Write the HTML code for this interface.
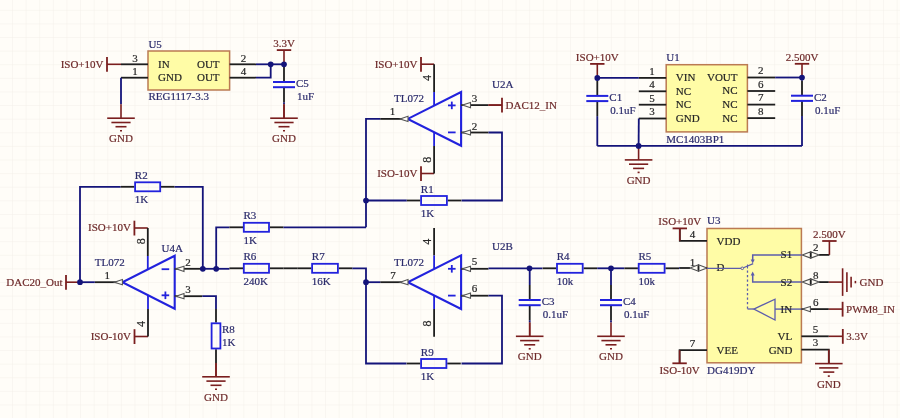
<!DOCTYPE html>
<html><head><meta charset="utf-8"><style>
html,body{margin:0;padding:0;background:#fffdf8;}
svg{display:block;will-change:transform;filter:blur(0.4px);}
text{font-family:"Liberation Serif", serif;stroke:currentColor;stroke-width:0.2px;}
</style></head><body>
<svg width="900" height="418" viewBox="0 0 900 418">
<defs><pattern id="g" x="12" y="9.8" width="13.61" height="13.61" patternUnits="userSpaceOnUse">
<path d="M0 0 H13.61 M0 0 V13.61" stroke="#f4f0e9" stroke-width="1" fill="none"/></pattern></defs>
<rect width="900" height="418" fill="#fffdf8"/>
<rect width="900" height="418" fill="url(#g)"/>
<rect x="148" y="51" width="81.6" height="39" stroke="#bb7a52" stroke-width="1.5" fill="#fffca6"/>
<line x1="121" y1="64.3" x2="148" y2="64.3" stroke="#1e1e1e" stroke-width="1.8" />
<line x1="121" y1="77.7" x2="148" y2="77.7" stroke="#1e1e1e" stroke-width="1.8" />
<line x1="229.6" y1="64.3" x2="256" y2="64.3" stroke="#1e1e1e" stroke-width="1.8" />
<line x1="229.6" y1="77.7" x2="256" y2="77.7" stroke="#1e1e1e" stroke-width="1.8" />
<line x1="107" y1="64.3" x2="121" y2="64.3" stroke="#7a1e1e" stroke-width="1.6" />
<line x1="107" y1="57.0" x2="107" y2="71.8" stroke="#7a1e1e" stroke-width="1.8" />
<text x="103.5" y="67.71" fill="#6e2a2a" color="#6e2a2a" font-size="11" text-anchor="end">ISO+10V</text>
<text x="135" y="61.91" fill="#262626" color="#262626" font-size="11" text-anchor="middle">3</text>
<text x="135" y="75.21" fill="#262626" color="#262626" font-size="11" text-anchor="middle">1</text>
<text x="243.5" y="61.91" fill="#262626" color="#262626" font-size="11" text-anchor="middle">2</text>
<text x="243.5" y="75.21" fill="#262626" color="#262626" font-size="11" text-anchor="middle">4</text>
<text x="158" y="67.71" fill="#262626" color="#262626" font-size="11" text-anchor="start">IN</text>
<text x="158" y="81.11" fill="#262626" color="#262626" font-size="11" text-anchor="start">GND</text>
<text x="219.6" y="67.71" fill="#262626" color="#262626" font-size="11" text-anchor="end">OUT</text>
<text x="219.6" y="81.11" fill="#262626" color="#262626" font-size="11" text-anchor="end">OUT</text>
<text x="148.4" y="47.91" fill="#2c2c6c" color="#2c2c6c" font-size="11" text-anchor="start">U5</text>
<text x="148.4" y="100.41" fill="#2c2c6c" color="#2c2c6c" font-size="11" text-anchor="start">REG1117-3.3</text>
<polyline points="121,77.7 121,104.2" stroke="#14147a" stroke-width="1.8" fill="none" stroke-linejoin="miter" />
<line x1="121" y1="104.2" x2="121" y2="118.2" stroke="#7a1e1e" stroke-width="1.6" />
<line x1="107.2" y1="118.2" x2="134.8" y2="118.2" stroke="#7a1e1e" stroke-width="1.6" />
<line x1="111.4" y1="122.5" x2="130.6" y2="122.5" stroke="#7a1e1e" stroke-width="1.6" />
<line x1="115.5" y1="126.7" x2="126.5" y2="126.7" stroke="#7a1e1e" stroke-width="1.6" />
<line x1="120" y1="130.7" x2="122" y2="130.7" stroke="#7a1e1e" stroke-width="1.6" />
<text x="121" y="142.21" fill="#6e2a2a" color="#6e2a2a" font-size="11" text-anchor="middle">GND</text>
<line x1="256" y1="64.3" x2="284" y2="64.3" stroke="#14147a" stroke-width="1.8" />
<polyline points="256,77.7 270.7,77.7 270.7,64.3" stroke="#14147a" stroke-width="1.8" fill="none" stroke-linejoin="miter" />
<line x1="284" y1="50.1" x2="284" y2="64.3" stroke="#7a1e1e" stroke-width="1.6" />
<line x1="276.8" y1="50.1" x2="291.2" y2="50.1" stroke="#7a1e1e" stroke-width="1.8" />
<text x="284" y="47.01" fill="#6e2a2a" color="#6e2a2a" font-size="11" text-anchor="middle">3.3V</text>
<line x1="284" y1="64.3" x2="284" y2="67" stroke="#14147a" stroke-width="1.8" />
<line x1="284" y1="67" x2="284" y2="82" stroke="#1e1e1e" stroke-width="1.8" />
<line x1="284" y1="102.2" x2="284" y2="104.2" stroke="#14147a" stroke-width="1.8" />
<line x1="284" y1="87.2" x2="284" y2="102.2" stroke="#1e1e1e" stroke-width="1.8" />
<line x1="273" y1="82" x2="295" y2="82" stroke="#2222dd" stroke-width="2" />
<line x1="273" y1="87.2" x2="295" y2="87.2" stroke="#2222dd" stroke-width="2" />
<text x="296" y="87.01" fill="#2c2c6c" color="#2c2c6c" font-size="11" text-anchor="start">C5</text>
<text x="297" y="100.41" fill="#2c2c6c" color="#2c2c6c" font-size="11" text-anchor="start">1uF</text>
<line x1="284" y1="104.2" x2="284" y2="118.2" stroke="#7a1e1e" stroke-width="1.6" />
<line x1="284" y1="104.2" x2="284" y2="118.2" stroke="#7a1e1e" stroke-width="1.6" />
<line x1="270.2" y1="118.2" x2="297.8" y2="118.2" stroke="#7a1e1e" stroke-width="1.6" />
<line x1="274.4" y1="122.5" x2="293.6" y2="122.5" stroke="#7a1e1e" stroke-width="1.6" />
<line x1="278.5" y1="126.7" x2="289.5" y2="126.7" stroke="#7a1e1e" stroke-width="1.6" />
<line x1="283" y1="130.7" x2="285" y2="130.7" stroke="#7a1e1e" stroke-width="1.6" />
<text x="284" y="142.21" fill="#6e2a2a" color="#6e2a2a" font-size="11" text-anchor="middle">GND</text>
<polygon points="461.1,92 461.1,145.8 407.8,118.9" stroke="#2222dd" stroke-width="2.1" fill="none"/>
<line x1="448.0" y1="105.4" x2="455.6" y2="105.4" stroke="#2222dd" stroke-width="1.8" />
<line x1="451.8" y1="101.60000000000001" x2="451.8" y2="109.2" stroke="#2222dd" stroke-width="1.8" />
<line x1="448.0" y1="132.4" x2="455.6" y2="132.4" stroke="#2222dd" stroke-width="1.8" />
<line x1="421" y1="64.2" x2="434.1" y2="64.2" stroke="#7a1e1e" stroke-width="1.6" />
<line x1="421" y1="56.900000000000006" x2="421" y2="71.7" stroke="#7a1e1e" stroke-width="1.8" />
<text x="417.5" y="67.61" fill="#6e2a2a" color="#6e2a2a" font-size="11" text-anchor="end">ISO+10V</text>
<line x1="434.1" y1="64.2" x2="434.1" y2="92" stroke="#1e1e1e" stroke-width="1.8" />
<line x1="434.1" y1="92" x2="434.1" y2="105" stroke="#2222dd" stroke-width="1.8" />
<text x="427" y="81.62" fill="#262626" color="#262626" font-size="12" text-anchor="middle" transform="rotate(-90 427 77.9)">4</text>
<line x1="421" y1="173.5" x2="434.1" y2="173.5" stroke="#7a1e1e" stroke-width="1.6" />
<line x1="421" y1="166.2" x2="421" y2="181.0" stroke="#7a1e1e" stroke-width="1.8" />
<text x="417.5" y="176.91" fill="#6e2a2a" color="#6e2a2a" font-size="11" text-anchor="end">ISO-10V</text>
<line x1="434.1" y1="173.5" x2="434.1" y2="146" stroke="#1e1e1e" stroke-width="1.8" />
<line x1="434.1" y1="146" x2="434.1" y2="132.5" stroke="#2222dd" stroke-width="1.8" />
<text x="426.8" y="163.52" fill="#262626" color="#262626" font-size="12" text-anchor="middle" transform="rotate(-90 426.8 159.8)">8</text>
<line x1="461.1" y1="105.1" x2="488.5" y2="105.1" stroke="#1e1e1e" stroke-width="1.8" />
<polygon points="462.5,105.1 470.5,102.5 470.5,107.69999999999999" stroke="#555" stroke-width="1.1" fill="#fffdf6"/>
<line x1="488.5" y1="105.1" x2="502" y2="105.1" stroke="#7a1e1e" stroke-width="1.6" />
<line x1="488.5" y1="105.1" x2="502" y2="105.1" stroke="#7a1e1e" stroke-width="1.6" />
<line x1="502" y1="97.8" x2="502" y2="112.6" stroke="#7a1e1e" stroke-width="1.8" />
<text x="505.5" y="108.51" fill="#6e2a2a" color="#6e2a2a" font-size="11" text-anchor="start">DAC12_IN</text>
<line x1="461.1" y1="132.5" x2="488.5" y2="132.5" stroke="#1e1e1e" stroke-width="1.8" />
<polygon points="462.5,132.5 470.5,129.9 470.5,135.1" stroke="#555" stroke-width="1.1" fill="#fffdf6"/>
<polyline points="488.5,132.5 502,132.5 502,200.5 461.5,200.5" stroke="#14147a" stroke-width="1.8" fill="none" stroke-linejoin="miter" />
<text x="474.4" y="102.21" fill="#262626" color="#262626" font-size="11" text-anchor="middle">3</text>
<text x="474.4" y="129.61" fill="#262626" color="#262626" font-size="11" text-anchor="middle">2</text>
<line x1="380.2" y1="118.9" x2="407.8" y2="118.9" stroke="#1e1e1e" stroke-width="1.8" />
<polygon points="400,118.9 408,116.30000000000001 408,121.5" stroke="#555" stroke-width="1.1" fill="#fffdf6"/>
<polyline points="380.2,118.9 366,118.9 366,227.3" stroke="#14147a" stroke-width="1.8" fill="none" stroke-linejoin="miter" />
<text x="392.5" y="115.21" fill="#262626" color="#262626" font-size="11" text-anchor="middle">1</text>
<text x="394" y="101.61" fill="#2c2c6c" color="#2c2c6c" font-size="11" text-anchor="start">TL072</text>
<text x="492" y="87.81" fill="#2c2c6c" color="#2c2c6c" font-size="11" text-anchor="start">U2A</text>
<line x1="406.7" y1="200.5" x2="420.3" y2="200.5" stroke="#1e1e1e" stroke-width="1.8" />
<line x1="447.7" y1="200.5" x2="461.3" y2="200.5" stroke="#1e1e1e" stroke-width="1.8" />
<rect x="421.1" y="196.0" width="25.799999999999955" height="9.0" stroke="#2222dd" stroke-width="1.8" fill="none"/>
<text x="420.8" y="192.61" fill="#2c2c6c" color="#2c2c6c" font-size="11" text-anchor="start">R1</text>
<text x="420.8" y="216.71" fill="#2c2c6c" color="#2c2c6c" font-size="11" text-anchor="start">1K</text>
<line x1="366" y1="200.5" x2="406.7" y2="200.5" stroke="#14147a" stroke-width="1.8" />
<polygon points="174.7,255.8 174.7,308.7 122.4,282.25" stroke="#2222dd" stroke-width="2.1" fill="none"/>
<line x1="161.59999999999997" y1="295.3" x2="169.2" y2="295.3" stroke="#2222dd" stroke-width="1.8" />
<line x1="165.39999999999998" y1="291.5" x2="165.39999999999998" y2="299.1" stroke="#2222dd" stroke-width="1.8" />
<line x1="161.59999999999997" y1="269.2" x2="169.2" y2="269.2" stroke="#2222dd" stroke-width="1.8" />
<line x1="134.4" y1="228" x2="147.8" y2="228" stroke="#7a1e1e" stroke-width="1.6" />
<line x1="134.4" y1="220.7" x2="134.4" y2="235.5" stroke="#7a1e1e" stroke-width="1.8" />
<text x="130.9" y="231.41" fill="#6e2a2a" color="#6e2a2a" font-size="11" text-anchor="end">ISO+10V</text>
<line x1="147.8" y1="228" x2="147.8" y2="256" stroke="#1e1e1e" stroke-width="1.8" />
<line x1="147.8" y1="256" x2="147.8" y2="269.3" stroke="#2222dd" stroke-width="1.8" />
<text x="140.8" y="244.92" fill="#262626" color="#262626" font-size="12" text-anchor="middle" transform="rotate(-90 140.8 241.2)">8</text>
<line x1="134.5" y1="336.5" x2="148" y2="336.5" stroke="#7a1e1e" stroke-width="1.6" />
<line x1="134.5" y1="329.2" x2="134.5" y2="344.0" stroke="#7a1e1e" stroke-width="1.8" />
<text x="131.0" y="339.91" fill="#6e2a2a" color="#6e2a2a" font-size="11" text-anchor="end">ISO-10V</text>
<line x1="148" y1="336.5" x2="148" y2="309" stroke="#1e1e1e" stroke-width="1.8" />
<line x1="148" y1="309" x2="148" y2="295.6" stroke="#2222dd" stroke-width="1.8" />
<text x="140.8" y="327.72" fill="#262626" color="#262626" font-size="12" text-anchor="middle" transform="rotate(-90 140.8 324)">4</text>
<line x1="94.8" y1="282.2" x2="122.4" y2="282.2" stroke="#1e1e1e" stroke-width="1.8" />
<polygon points="114.4,282.2 122.4,279.59999999999997 122.4,284.8" stroke="#555" stroke-width="1.1" fill="#fffdf6"/>
<line x1="66" y1="282.2" x2="80" y2="282.2" stroke="#7a1e1e" stroke-width="1.6" />
<line x1="66" y1="274.9" x2="66" y2="289.7" stroke="#7a1e1e" stroke-width="1.8" />
<text x="62.5" y="285.61" fill="#6e2a2a" color="#6e2a2a" font-size="11" text-anchor="end">DAC20_Out</text>
<line x1="80" y1="282.2" x2="94.8" y2="282.2" stroke="#14147a" stroke-width="1.8" />
<polyline points="80,282.2 80,186.8 120.7,186.8" stroke="#14147a" stroke-width="1.8" fill="none" stroke-linejoin="miter" />
<text x="107.2" y="278.91" fill="#262626" color="#262626" font-size="11" text-anchor="middle">1</text>
<text x="94.7" y="265.51" fill="#2c2c6c" color="#2c2c6c" font-size="11" text-anchor="start">TL072</text>
<text x="161.6" y="252.11" fill="#2c2c6c" color="#2c2c6c" font-size="11" text-anchor="start">U4A</text>
<line x1="120.70000000000002" y1="186.8" x2="134.3" y2="186.8" stroke="#1e1e1e" stroke-width="1.8" />
<line x1="161" y1="186.8" x2="174.6" y2="186.8" stroke="#1e1e1e" stroke-width="1.8" />
<rect x="135.10000000000002" y="182.3" width="25.099999999999966" height="9.0" stroke="#2222dd" stroke-width="1.8" fill="none"/>
<text x="134.8" y="178.91" fill="#2c2c6c" color="#2c2c6c" font-size="11" text-anchor="start">R2</text>
<text x="134.8" y="203.01" fill="#2c2c6c" color="#2c2c6c" font-size="11" text-anchor="start">1K</text>
<polyline points="174.6,186.8 202.8,186.8 202.8,268.8" stroke="#14147a" stroke-width="1.8" fill="none" stroke-linejoin="miter" />
<line x1="174.7" y1="268.8" x2="202.8" y2="268.8" stroke="#1e1e1e" stroke-width="1.8" />
<polygon points="176,268.8 184,266.2 184,271.40000000000003" stroke="#555" stroke-width="1.1" fill="#fffdf6"/>
<line x1="202.8" y1="268.8" x2="229.4" y2="268.8" stroke="#14147a" stroke-width="1.8" />
<line x1="174.7" y1="296.2" x2="202.3" y2="296.2" stroke="#1e1e1e" stroke-width="1.8" />
<polygon points="176,296.2 184,293.59999999999997 184,298.8" stroke="#555" stroke-width="1.1" fill="#fffdf6"/>
<text x="188" y="265.71" fill="#262626" color="#262626" font-size="11" text-anchor="middle">2</text>
<text x="188" y="292.71" fill="#262626" color="#262626" font-size="11" text-anchor="middle">3</text>
<polyline points="202.3,296.2 216,296.2 216,308.9" stroke="#14147a" stroke-width="1.8" fill="none" stroke-linejoin="miter" />
<line x1="216" y1="308.9" x2="216" y2="322.5" stroke="#1e1e1e" stroke-width="1.8" />
<line x1="216" y1="349.3" x2="216" y2="362.90000000000003" stroke="#1e1e1e" stroke-width="1.8" />
<rect x="211.6" y="323.3" width="8.800000000000011" height="25.19999999999999" stroke="#2222dd" stroke-width="1.8" fill="none"/>
<text x="222" y="333.41" fill="#2c2c6c" color="#2c2c6c" font-size="11" text-anchor="start">R8</text>
<text x="222" y="346.41" fill="#2c2c6c" color="#2c2c6c" font-size="11" text-anchor="start">1K</text>
<line x1="216" y1="362.9" x2="216" y2="376.8" stroke="#7a1e1e" stroke-width="1.6" />
<line x1="202.2" y1="376.8" x2="229.8" y2="376.8" stroke="#7a1e1e" stroke-width="1.6" />
<line x1="206.4" y1="381.1" x2="225.6" y2="381.1" stroke="#7a1e1e" stroke-width="1.6" />
<line x1="210.5" y1="385.3" x2="221.5" y2="385.3" stroke="#7a1e1e" stroke-width="1.6" />
<line x1="215" y1="389.3" x2="217" y2="389.3" stroke="#7a1e1e" stroke-width="1.6" />
<text x="216" y="400.81" fill="#6e2a2a" color="#6e2a2a" font-size="11" text-anchor="middle">GND</text>
<line x1="216" y1="362.9" x2="216" y2="376.8" stroke="#7a1e1e" stroke-width="1.6" />
<polyline points="216.2,268.8 216.2,227.3 229.4,227.3" stroke="#14147a" stroke-width="1.8" fill="none" stroke-linejoin="miter" />
<line x1="229.4" y1="227.3" x2="243" y2="227.3" stroke="#1e1e1e" stroke-width="1.8" />
<line x1="269.8" y1="227.3" x2="283.40000000000003" y2="227.3" stroke="#1e1e1e" stroke-width="1.8" />
<rect x="243.8" y="222.8" width="25.19999999999999" height="9.0" stroke="#2222dd" stroke-width="1.8" fill="none"/>
<text x="243.5" y="219.41" fill="#2c2c6c" color="#2c2c6c" font-size="11" text-anchor="start">R3</text>
<text x="243.5" y="243.51" fill="#2c2c6c" color="#2c2c6c" font-size="11" text-anchor="start">1K</text>
<polyline points="283.4,227.3 366,227.3" stroke="#14147a" stroke-width="1.8" fill="none" stroke-linejoin="miter" />
<line x1="229.4" y1="268.3" x2="243" y2="268.3" stroke="#1e1e1e" stroke-width="1.8" />
<line x1="269.8" y1="268.3" x2="283.40000000000003" y2="268.3" stroke="#1e1e1e" stroke-width="1.8" />
<rect x="243.8" y="263.8" width="25.19999999999999" height="9.0" stroke="#2222dd" stroke-width="1.8" fill="none"/>
<text x="243.5" y="260.41" fill="#2c2c6c" color="#2c2c6c" font-size="11" text-anchor="start">R6</text>
<text x="243.5" y="284.51" fill="#2c2c6c" color="#2c2c6c" font-size="11" text-anchor="start">240K</text>
<line x1="283.4" y1="268.3" x2="297.7" y2="268.3" stroke="#1e1e1e" stroke-width="1.8" />
<line x1="297.7" y1="268.3" x2="311.3" y2="268.3" stroke="#1e1e1e" stroke-width="1.8" />
<line x1="338.7" y1="268.3" x2="352.3" y2="268.3" stroke="#1e1e1e" stroke-width="1.8" />
<rect x="312.1" y="263.8" width="25.799999999999955" height="9.0" stroke="#2222dd" stroke-width="1.8" fill="none"/>
<text x="311.8" y="260.41" fill="#2c2c6c" color="#2c2c6c" font-size="11" text-anchor="start">R7</text>
<text x="311.8" y="284.51" fill="#2c2c6c" color="#2c2c6c" font-size="11" text-anchor="start">16K</text>
<polyline points="352.3,268.3 366,268.3 366,363.5 406.5,363.5" stroke="#14147a" stroke-width="1.8" fill="none" stroke-linejoin="miter" />
<polygon points="461.1,255.4 461.1,309 407.8,282.2" stroke="#2222dd" stroke-width="2.1" fill="none"/>
<line x1="448.0" y1="268.8" x2="455.6" y2="268.8" stroke="#2222dd" stroke-width="1.8" />
<line x1="451.8" y1="265.0" x2="451.8" y2="272.6" stroke="#2222dd" stroke-width="1.8" />
<line x1="448.0" y1="295.6" x2="455.6" y2="295.6" stroke="#2222dd" stroke-width="1.8" />
<line x1="434.1" y1="228" x2="434.1" y2="255.5" stroke="#1e1e1e" stroke-width="1.8" />
<line x1="434.1" y1="255.5" x2="434.1" y2="268.8" stroke="#2222dd" stroke-width="1.8" />
<text x="427.2" y="245.42" fill="#262626" color="#262626" font-size="12" text-anchor="middle" transform="rotate(-90 427.2 241.7)">4</text>
<line x1="434.1" y1="336.8" x2="434.1" y2="309" stroke="#1e1e1e" stroke-width="1.8" />
<line x1="434.1" y1="309" x2="434.1" y2="295.7" stroke="#2222dd" stroke-width="1.8" />
<text x="426.8" y="327.22" fill="#262626" color="#262626" font-size="12" text-anchor="middle" transform="rotate(-90 426.8 323.5)">8</text>
<line x1="380.2" y1="282.2" x2="407.8" y2="282.2" stroke="#1e1e1e" stroke-width="1.8" />
<polygon points="400,282.2 408,279.59999999999997 408,284.8" stroke="#555" stroke-width="1.1" fill="#fffdf6"/>
<line x1="366" y1="282.2" x2="380.2" y2="282.2" stroke="#14147a" stroke-width="1.8" />
<text x="393" y="278.91" fill="#262626" color="#262626" font-size="11" text-anchor="middle">7</text>
<text x="394" y="265.51" fill="#2c2c6c" color="#2c2c6c" font-size="11" text-anchor="start">TL072</text>
<text x="492" y="250.21" fill="#2c2c6c" color="#2c2c6c" font-size="11" text-anchor="start">U2B</text>
<line x1="461.1" y1="268.8" x2="488.5" y2="268.8" stroke="#1e1e1e" stroke-width="1.8" />
<polygon points="462.5,268.8 470.5,266.2 470.5,271.40000000000003" stroke="#555" stroke-width="1.1" fill="#fffdf6"/>
<line x1="461.1" y1="295.7" x2="488.5" y2="295.7" stroke="#1e1e1e" stroke-width="1.8" />
<polygon points="462.5,295.7 470.5,293.09999999999997 470.5,298.3" stroke="#555" stroke-width="1.1" fill="#fffdf6"/>
<text x="474.4" y="265.41" fill="#262626" color="#262626" font-size="11" text-anchor="middle">5</text>
<text x="474.4" y="292.41" fill="#262626" color="#262626" font-size="11" text-anchor="middle">6</text>
<polyline points="488.5,295.7 502,295.7 502,363.5 461.5,363.5" stroke="#14147a" stroke-width="1.8" fill="none" stroke-linejoin="miter" />
<line x1="406.7" y1="363.5" x2="420.3" y2="363.5" stroke="#1e1e1e" stroke-width="1.8" />
<line x1="447.2" y1="363.5" x2="460.8" y2="363.5" stroke="#1e1e1e" stroke-width="1.8" />
<rect x="421.1" y="359.0" width="25.299999999999955" height="9.0" stroke="#2222dd" stroke-width="1.8" fill="none"/>
<text x="420.8" y="355.61" fill="#2c2c6c" color="#2c2c6c" font-size="11" text-anchor="start">R9</text>
<text x="420.8" y="379.71" fill="#2c2c6c" color="#2c2c6c" font-size="11" text-anchor="start">1K</text>
<line x1="488.5" y1="268.3" x2="542.4" y2="268.3" stroke="#14147a" stroke-width="1.8" />
<line x1="542.6" y1="268.3" x2="556.2" y2="268.3" stroke="#1e1e1e" stroke-width="1.8" />
<line x1="583.5" y1="268.3" x2="597.1" y2="268.3" stroke="#1e1e1e" stroke-width="1.8" />
<rect x="557.0" y="263.8" width="25.700000000000045" height="9.0" stroke="#2222dd" stroke-width="1.8" fill="none"/>
<text x="556.7" y="260.41" fill="#2c2c6c" color="#2c2c6c" font-size="11" text-anchor="start">R4</text>
<text x="556.7" y="284.51" fill="#2c2c6c" color="#2c2c6c" font-size="11" text-anchor="start">10k</text>
<line x1="597.2" y1="268.3" x2="624.2" y2="268.3" stroke="#14147a" stroke-width="1.8" />
<line x1="624.3" y1="268.3" x2="637.9" y2="268.3" stroke="#1e1e1e" stroke-width="1.8" />
<line x1="665.4" y1="268.3" x2="679.0" y2="268.3" stroke="#1e1e1e" stroke-width="1.8" />
<rect x="638.6999999999999" y="263.8" width="25.90000000000009" height="9.0" stroke="#2222dd" stroke-width="1.8" fill="none"/>
<text x="638.4" y="260.41" fill="#2c2c6c" color="#2c2c6c" font-size="11" text-anchor="start">R5</text>
<text x="638.4" y="284.51" fill="#2c2c6c" color="#2c2c6c" font-size="11" text-anchor="start">10k</text>
<line x1="529.7" y1="268.3" x2="529.7" y2="285" stroke="#14147a" stroke-width="1.8" />
<line x1="529.7" y1="285" x2="529.7" y2="300" stroke="#1e1e1e" stroke-width="1.8" />
<line x1="529.7" y1="320.2" x2="529.7" y2="322.5" stroke="#14147a" stroke-width="1.8" />
<line x1="529.7" y1="305.2" x2="529.7" y2="320.2" stroke="#1e1e1e" stroke-width="1.8" />
<line x1="518.7" y1="300" x2="540.7" y2="300" stroke="#2222dd" stroke-width="2" />
<line x1="518.7" y1="305.2" x2="540.7" y2="305.2" stroke="#2222dd" stroke-width="2" />
<text x="541.7" y="305.01" fill="#2c2c6c" color="#2c2c6c" font-size="11" text-anchor="start">C3</text>
<text x="542.7" y="318.41" fill="#2c2c6c" color="#2c2c6c" font-size="11" text-anchor="start">0.1uF</text>
<line x1="529.7" y1="322.5" x2="529.7" y2="336.3" stroke="#7a1e1e" stroke-width="1.6" />
<line x1="529.7" y1="322.5" x2="529.7" y2="336.3" stroke="#7a1e1e" stroke-width="1.6" />
<line x1="515.9000000000001" y1="336.3" x2="543.5" y2="336.3" stroke="#7a1e1e" stroke-width="1.6" />
<line x1="520.1" y1="340.6" x2="539.3000000000001" y2="340.6" stroke="#7a1e1e" stroke-width="1.6" />
<line x1="524.2" y1="344.8" x2="535.2" y2="344.8" stroke="#7a1e1e" stroke-width="1.6" />
<line x1="528.7" y1="348.8" x2="530.7" y2="348.8" stroke="#7a1e1e" stroke-width="1.6" />
<text x="529.7" y="360.31" fill="#6e2a2a" color="#6e2a2a" font-size="11" text-anchor="middle">GND</text>
<line x1="611" y1="268.3" x2="611" y2="285" stroke="#14147a" stroke-width="1.8" />
<line x1="611" y1="285" x2="611" y2="300" stroke="#1e1e1e" stroke-width="1.8" />
<line x1="611" y1="320.2" x2="611" y2="322.5" stroke="#14147a" stroke-width="1.8" />
<line x1="611" y1="305.2" x2="611" y2="320.2" stroke="#1e1e1e" stroke-width="1.8" />
<line x1="600" y1="300" x2="622" y2="300" stroke="#2222dd" stroke-width="2" />
<line x1="600" y1="305.2" x2="622" y2="305.2" stroke="#2222dd" stroke-width="2" />
<text x="623" y="305.01" fill="#2c2c6c" color="#2c2c6c" font-size="11" text-anchor="start">C4</text>
<text x="624" y="318.41" fill="#2c2c6c" color="#2c2c6c" font-size="11" text-anchor="start">0.1uF</text>
<line x1="611" y1="322.5" x2="611" y2="336.3" stroke="#7a1e1e" stroke-width="1.6" />
<line x1="597.2" y1="336.3" x2="624.8" y2="336.3" stroke="#7a1e1e" stroke-width="1.6" />
<line x1="601.4" y1="340.6" x2="620.6" y2="340.6" stroke="#7a1e1e" stroke-width="1.6" />
<line x1="605.5" y1="344.8" x2="616.5" y2="344.8" stroke="#7a1e1e" stroke-width="1.6" />
<line x1="610" y1="348.8" x2="612" y2="348.8" stroke="#7a1e1e" stroke-width="1.6" />
<text x="611" y="360.31" fill="#6e2a2a" color="#6e2a2a" font-size="11" text-anchor="middle">GND</text>
<rect x="707" y="228.5" width="94.39999999999998" height="134.3" stroke="#bb7a52" stroke-width="1.5" fill="#fffca6"/>
<line x1="679.7" y1="268" x2="690" y2="268" stroke="#1e1e1e" stroke-width="1.8" />
<line x1="679.0" y1="268" x2="679.7" y2="268" stroke="#14147a" stroke-width="1.8" />
<polygon points="690,268 698.5,264.8 698.5,271.2" stroke="#505050" stroke-width="1.1" fill="#fffdf6"/>
<polygon points="707.0,268 698.5,264.8 698.5,271.2" stroke="#505050" stroke-width="1.1" fill="#fffdf6"/>
<line x1="698.5" y1="265.8" x2="698.5" y2="270.2" stroke="#202020" stroke-width="1.8"/>
<line x1="706.5" y1="268" x2="707" y2="268" stroke="#1e1e1e" stroke-width="1.8" />
<text x="692.6" y="265.61" fill="#262626" color="#262626" font-size="11" text-anchor="middle">1</text>
<polyline points="707,240.8 679.8,240.8 679.8,228.4" stroke="#1e1e1e" stroke-width="1.8" fill="none" stroke-linejoin="miter" />
<line x1="679.8" y1="228.4" x2="679.8" y2="240.8" stroke="#7a1e1e" stroke-width="1.6" />
<line x1="672.5999999999999" y1="228.4" x2="687.0" y2="228.4" stroke="#7a1e1e" stroke-width="1.8" />
<text x="679.8" y="225.31" fill="#6e2a2a" color="#6e2a2a" font-size="11" text-anchor="middle">ISO+10V</text>
<text x="692.6" y="237.81" fill="#262626" color="#262626" font-size="11" text-anchor="middle">4</text>
<text x="707" y="224.41" fill="#2c2c6c" color="#2c2c6c" font-size="11" text-anchor="start">U3</text>
<text x="716.6" y="244.51" fill="#262626" color="#262626" font-size="11" text-anchor="start">VDD</text>
<text x="716.6" y="271.41" fill="#262626" color="#262626" font-size="11" text-anchor="start">D</text>
<polyline points="707,350.2 679.6,350.2 679.6,363.3" stroke="#1e1e1e" stroke-width="1.8" fill="none" stroke-linejoin="miter" />
<line x1="679.6" y1="350.2" x2="679.6" y2="363.3" stroke="#7a1e1e" stroke-width="1.6" />
<line x1="672.4" y1="363.3" x2="686.8000000000001" y2="363.3" stroke="#7a1e1e" stroke-width="1.8" />
<text x="679.6" y="373.71" fill="#6e2a2a" color="#6e2a2a" font-size="11" text-anchor="middle">ISO-10V</text>
<text x="692.6" y="346.61" fill="#262626" color="#262626" font-size="11" text-anchor="middle">7</text>
<text x="716.6" y="353.71" fill="#262626" color="#262626" font-size="11" text-anchor="start">VEE</text>
<text x="707.1" y="373.71" fill="#2c2c6c" color="#2c2c6c" font-size="11" text-anchor="start">DG419DY</text>
<polyline points="707,268.3 741,268.3" stroke="#5c5cac" stroke-width="1.3" fill="none" stroke-linejoin="miter" />
<circle cx="742.3" cy="268.3" r="1.3" stroke="#5c5cac" stroke-width="1" fill="#fffca6"/>
<line x1="743.5" y1="267.8" x2="753.2" y2="263.6" stroke="#5c5cac" stroke-width="1.2" />
<polyline points="801.4,254.9 752.7,254.9 752.7,260.5" stroke="#5c5cac" stroke-width="1.5" fill="none" stroke-linejoin="miter" />
<polyline points="801.4,281.9 752.7,281.9 752.7,274.5" stroke="#5c5cac" stroke-width="1.5" fill="none" stroke-linejoin="miter" />
<polygon points="750.7,259.6 754.7,259.6 752.7,263.4" fill="#5c5cac"/>
<polygon points="750.7,275.4 754.7,275.4 752.7,271.6" fill="#5c5cac"/>
<line x1="747.5" y1="264.5" x2="747.5" y2="268.5" stroke="#5c5cac" stroke-width="1.1" />
<line x1="747.5" y1="270.5" x2="747.5" y2="309" stroke="#5c5cac" stroke-width="1.3" stroke-dasharray="2.2,2.3"/>
<line x1="747.5" y1="309" x2="753.8" y2="309" stroke="#5c5cac" stroke-width="1.3" />
<polygon points="753.8,309.1 775,299.2 775,320" stroke="#5c5cac" stroke-width="1.3" fill="none"/>
<line x1="775" y1="309.1" x2="801.4" y2="309.1" stroke="#5c5cac" stroke-width="1.4" />
<text x="792.2" y="258.31" fill="#262626" color="#262626" font-size="11" text-anchor="end">S1</text>
<text x="792.2" y="285.51" fill="#262626" color="#262626" font-size="11" text-anchor="end">S2</text>
<text x="792.2" y="312.51" fill="#262626" color="#262626" font-size="11" text-anchor="end">IN</text>
<text x="792.2" y="340.01" fill="#262626" color="#262626" font-size="11" text-anchor="end">VL</text>
<text x="792.5" y="353.71" fill="#262626" color="#262626" font-size="11" text-anchor="end">GND</text>
<polygon points="802.2,254.9 810.7,251.70000000000002 810.7,258.1" stroke="#505050" stroke-width="1.1" fill="#fffdf6"/>
<polygon points="819.2,254.9 810.7,251.70000000000002 810.7,258.1" stroke="#505050" stroke-width="1.1" fill="#fffdf6"/>
<line x1="810.7" y1="252.70000000000002" x2="810.7" y2="257.1" stroke="#202020" stroke-width="1.8"/>
<line x1="819.2" y1="254.9" x2="829.4" y2="254.9" stroke="#1e1e1e" stroke-width="1.8" />
<line x1="829.4" y1="241" x2="829.4" y2="254.9" stroke="#7a1e1e" stroke-width="1.6" />
<line x1="822.1999999999999" y1="241" x2="836.6" y2="241" stroke="#7a1e1e" stroke-width="1.8" />
<text x="829.4" y="237.91" fill="#6e2a2a" color="#6e2a2a" font-size="11" text-anchor="middle">2.500V</text>
<text x="815.8" y="251.11" fill="#262626" color="#262626" font-size="11" text-anchor="middle">2</text>
<polygon points="802.2,282.1 810.7,278.90000000000003 810.7,285.3" stroke="#505050" stroke-width="1.1" fill="#fffdf6"/>
<polygon points="819.2,282.1 810.7,278.90000000000003 810.7,285.3" stroke="#505050" stroke-width="1.1" fill="#fffdf6"/>
<line x1="810.7" y1="279.90000000000003" x2="810.7" y2="284.3" stroke="#202020" stroke-width="1.8"/>
<line x1="819.2" y1="282.1" x2="828.8" y2="282.1" stroke="#1e1e1e" stroke-width="1.8" />
<line x1="828.8" y1="282.1" x2="842.6" y2="282.1" stroke="#7a1e1e" stroke-width="1.6" />
<line x1="842.6" y1="268.3" x2="842.6" y2="295.90000000000003" stroke="#7a1e1e" stroke-width="1.6" />
<line x1="846.9" y1="272.3" x2="846.9" y2="291.90000000000003" stroke="#7a1e1e" stroke-width="1.6" />
<line x1="851.1" y1="276.8" x2="851.1" y2="287.40000000000003" stroke="#7a1e1e" stroke-width="1.6" />
<line x1="855.4" y1="280.90000000000003" x2="855.4" y2="283.3" stroke="#7a1e1e" stroke-width="1.6" />
<text x="859.6" y="285.51" fill="#6e2a2a" color="#6e2a2a" font-size="11" text-anchor="start">GND</text>
<text x="815.8" y="278.61" fill="#262626" color="#262626" font-size="11" text-anchor="middle">8</text>
<line x1="801.4" y1="309.1" x2="828.8" y2="309.1" stroke="#1e1e1e" stroke-width="1.8" />
<polygon points="802.4,309.1 810.4,306.5 810.4,311.70000000000005" stroke="#555" stroke-width="1.1" fill="#fffdf6"/>
<line x1="828.8" y1="309.1" x2="842.6" y2="309.1" stroke="#7a1e1e" stroke-width="1.6" />
<line x1="842.6" y1="301.8" x2="842.6" y2="316.6" stroke="#7a1e1e" stroke-width="1.8" />
<text x="846.1" y="312.51" fill="#6e2a2a" color="#6e2a2a" font-size="11" text-anchor="start">PWM8_IN</text>
<text x="815.8" y="306.01" fill="#262626" color="#262626" font-size="11" text-anchor="middle">6</text>
<line x1="801.4" y1="336.3" x2="828.8" y2="336.3" stroke="#1e1e1e" stroke-width="1.8" />
<line x1="828.8" y1="336.3" x2="842.8" y2="336.3" stroke="#7a1e1e" stroke-width="1.6" />
<line x1="842.8" y1="329.0" x2="842.8" y2="343.8" stroke="#7a1e1e" stroke-width="1.8" />
<text x="846.3" y="339.71" fill="#6e2a2a" color="#6e2a2a" font-size="11" text-anchor="start">3.3V</text>
<text x="815.4" y="333.01" fill="#262626" color="#262626" font-size="11" text-anchor="middle">5</text>
<polyline points="801.4,349.7 828.8,349.7 828.8,363.6" stroke="#1e1e1e" stroke-width="1.8" fill="none" stroke-linejoin="miter" />
<line x1="828.8" y1="349.7" x2="828.8" y2="363.6" stroke="#7a1e1e" stroke-width="1.6" />
<line x1="815.0" y1="363.6" x2="842.5999999999999" y2="363.6" stroke="#7a1e1e" stroke-width="1.6" />
<line x1="819.1999999999999" y1="367.90000000000003" x2="838.4" y2="367.90000000000003" stroke="#7a1e1e" stroke-width="1.6" />
<line x1="823.3" y1="372.1" x2="834.3" y2="372.1" stroke="#7a1e1e" stroke-width="1.6" />
<line x1="827.8" y1="376.1" x2="829.8" y2="376.1" stroke="#7a1e1e" stroke-width="1.6" />
<text x="828.8" y="387.61" fill="#6e2a2a" color="#6e2a2a" font-size="11" text-anchor="middle">GND</text>
<text x="815.4" y="346.41" fill="#262626" color="#262626" font-size="11" text-anchor="middle">3</text>
<rect x="666.2" y="64.7" width="81.19999999999993" height="67.2" stroke="#bb7a52" stroke-width="1.5" fill="#fffca6"/>
<line x1="638.8" y1="77.9" x2="666.2" y2="77.9" stroke="#1e1e1e" stroke-width="1.8" />
<line x1="638.8" y1="91.3" x2="666.2" y2="91.3" stroke="#1e1e1e" stroke-width="1.8" />
<line x1="638.8" y1="104.7" x2="666.2" y2="104.7" stroke="#1e1e1e" stroke-width="1.8" />
<line x1="638.8" y1="118.5" x2="666.2" y2="118.5" stroke="#1e1e1e" stroke-width="1.8" />
<line x1="747.4" y1="77.5" x2="775.2" y2="77.5" stroke="#1e1e1e" stroke-width="1.8" />
<line x1="747.4" y1="91.0" x2="775.2" y2="91.0" stroke="#1e1e1e" stroke-width="1.8" />
<line x1="747.4" y1="104.6" x2="775.2" y2="104.6" stroke="#1e1e1e" stroke-width="1.8" />
<line x1="747.4" y1="118.1" x2="775.2" y2="118.1" stroke="#1e1e1e" stroke-width="1.8" />
<text x="651.9" y="74.61" fill="#262626" color="#262626" font-size="11" text-anchor="middle">1</text>
<text x="651.9" y="88.01" fill="#262626" color="#262626" font-size="11" text-anchor="middle">4</text>
<text x="651.9" y="101.61" fill="#262626" color="#262626" font-size="11" text-anchor="middle">5</text>
<text x="651.9" y="115.21" fill="#262626" color="#262626" font-size="11" text-anchor="middle">3</text>
<text x="760.8" y="74.21" fill="#262626" color="#262626" font-size="11" text-anchor="middle">2</text>
<text x="760.8" y="87.81" fill="#262626" color="#262626" font-size="11" text-anchor="middle">6</text>
<text x="760.8" y="101.41" fill="#262626" color="#262626" font-size="11" text-anchor="middle">7</text>
<text x="760.8" y="115.01" fill="#262626" color="#262626" font-size="11" text-anchor="middle">8</text>
<text x="675.8" y="81.31" fill="#262626" color="#262626" font-size="11" text-anchor="start">VIN</text>
<text x="675.8" y="94.71" fill="#262626" color="#262626" font-size="11" text-anchor="start">NC</text>
<text x="675.8" y="108.11" fill="#262626" color="#262626" font-size="11" text-anchor="start">NC</text>
<text x="675.8" y="121.91" fill="#262626" color="#262626" font-size="11" text-anchor="start">GND</text>
<text x="737.5" y="80.91" fill="#262626" color="#262626" font-size="11" text-anchor="end">VOUT</text>
<text x="737.5" y="94.41" fill="#262626" color="#262626" font-size="11" text-anchor="end">NC</text>
<text x="737.5" y="108.01" fill="#262626" color="#262626" font-size="11" text-anchor="end">NC</text>
<text x="737.5" y="121.51" fill="#262626" color="#262626" font-size="11" text-anchor="end">NC</text>
<text x="666.2" y="61.01" fill="#2c2c6c" color="#2c2c6c" font-size="11" text-anchor="start">U1</text>
<text x="666.2" y="143.31" fill="#2c2c6c" color="#2c2c6c" font-size="11" text-anchor="start">MC1403BP1</text>
<line x1="597.3" y1="77.9" x2="638.8" y2="77.9" stroke="#14147a" stroke-width="1.8" />
<line x1="597.3" y1="63.9" x2="597.3" y2="77.9" stroke="#7a1e1e" stroke-width="1.6" />
<line x1="590.0999999999999" y1="63.9" x2="604.5" y2="63.9" stroke="#7a1e1e" stroke-width="1.8" />
<text x="597.3" y="60.81" fill="#6e2a2a" color="#6e2a2a" font-size="11" text-anchor="middle">ISO+10V</text>
<line x1="597.3" y1="77.9" x2="597.3" y2="80.9" stroke="#14147a" stroke-width="1.8" />
<line x1="597.3" y1="80.9" x2="597.3" y2="95.9" stroke="#1e1e1e" stroke-width="1.8" />
<line x1="597.3" y1="116.1" x2="597.3" y2="145.9" stroke="#14147a" stroke-width="1.8" />
<line x1="597.3" y1="101.1" x2="597.3" y2="116.1" stroke="#1e1e1e" stroke-width="1.8" />
<line x1="586.3" y1="95.9" x2="608.3" y2="95.9" stroke="#2222dd" stroke-width="2" />
<line x1="586.3" y1="101.1" x2="608.3" y2="101.1" stroke="#2222dd" stroke-width="2" />
<text x="609.3" y="100.91" fill="#2c2c6c" color="#2c2c6c" font-size="11" text-anchor="start">C1</text>
<text x="610.3" y="114.31" fill="#2c2c6c" color="#2c2c6c" font-size="11" text-anchor="start">0.1uF</text>
<line x1="597.3" y1="145.9" x2="802" y2="145.9" stroke="#14147a" stroke-width="1.8" />
<polyline points="638.8,118.5 638.6,145.9" stroke="#14147a" stroke-width="1.8" fill="none" stroke-linejoin="miter" />
<line x1="638.6" y1="145.9" x2="638.6" y2="159.9" stroke="#7a1e1e" stroke-width="1.6" />
<line x1="624.8000000000001" y1="159.9" x2="652.4" y2="159.9" stroke="#7a1e1e" stroke-width="1.6" />
<line x1="629.0" y1="164.20000000000002" x2="648.2" y2="164.20000000000002" stroke="#7a1e1e" stroke-width="1.6" />
<line x1="633.1" y1="168.4" x2="644.1" y2="168.4" stroke="#7a1e1e" stroke-width="1.6" />
<line x1="637.6" y1="172.4" x2="639.6" y2="172.4" stroke="#7a1e1e" stroke-width="1.6" />
<text x="638.6" y="183.91" fill="#6e2a2a" color="#6e2a2a" font-size="11" text-anchor="middle">GND</text>
<line x1="775.2" y1="77.5" x2="802" y2="77.5" stroke="#14147a" stroke-width="1.8" />
<line x1="802" y1="63.8" x2="802" y2="77.5" stroke="#7a1e1e" stroke-width="1.6" />
<line x1="794.8" y1="63.8" x2="809.2" y2="63.8" stroke="#7a1e1e" stroke-width="1.8" />
<text x="802" y="60.71" fill="#6e2a2a" color="#6e2a2a" font-size="11" text-anchor="middle">2.500V</text>
<line x1="802" y1="77.5" x2="802" y2="80.7" stroke="#14147a" stroke-width="1.8" />
<line x1="802" y1="80.7" x2="802" y2="95.7" stroke="#1e1e1e" stroke-width="1.8" />
<line x1="802" y1="115.9" x2="802" y2="145.9" stroke="#14147a" stroke-width="1.8" />
<line x1="802" y1="100.9" x2="802" y2="115.9" stroke="#1e1e1e" stroke-width="1.8" />
<line x1="791" y1="95.7" x2="813" y2="95.7" stroke="#2222dd" stroke-width="2" />
<line x1="791" y1="100.9" x2="813" y2="100.9" stroke="#2222dd" stroke-width="2" />
<text x="814" y="100.71" fill="#2c2c6c" color="#2c2c6c" font-size="11" text-anchor="start">C2</text>
<text x="815" y="114.11" fill="#2c2c6c" color="#2c2c6c" font-size="11" text-anchor="start">0.1uF</text>
<circle cx="270.7" cy="64.3" r="2.85" fill="#14147a"/>
<circle cx="284" cy="64.3" r="2.85" fill="#14147a"/>
<circle cx="366" cy="200.5" r="2.85" fill="#14147a"/>
<circle cx="80" cy="282.2" r="2.85" fill="#14147a"/>
<circle cx="202.8" cy="268.8" r="2.85" fill="#14147a"/>
<circle cx="216.2" cy="268.8" r="2.85" fill="#14147a"/>
<circle cx="366" cy="282.2" r="2.85" fill="#14147a"/>
<circle cx="529.5" cy="268.3" r="2.85" fill="#14147a"/>
<circle cx="611" cy="268.3" r="2.85" fill="#14147a"/>
<circle cx="597.3" cy="77.9" r="2.85" fill="#14147a"/>
<circle cx="638.6" cy="145.9" r="2.85" fill="#14147a"/>
<circle cx="802" cy="77.5" r="2.85" fill="#14147a"/>
</svg>
</body></html>
